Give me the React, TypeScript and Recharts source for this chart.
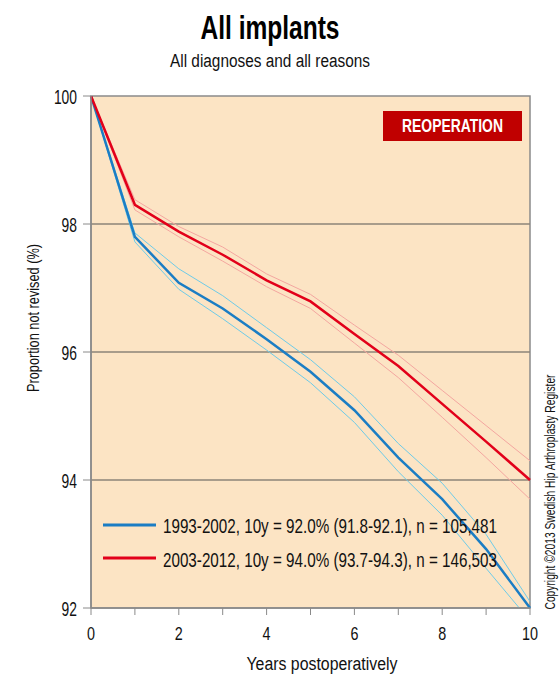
import React from 'react'
import {
  LineChart,
  Line,
  XAxis,
  YAxis,
  ReferenceArea,
  ReferenceLine,
} from 'recharts'

const years = [0, 1, 2, 3, 4, 5, 6, 7, 8, 9, 10]
const blueMain = [100, 97.8, 97.08, 96.68, 96.2, 95.69, 95.09, 94.35, 93.7, 92.92, 92.0]
const blueUpper = [100, 97.86, 97.3, 96.88, 96.38, 95.88, 95.3, 94.57, 93.95, 93.15, 92.1]
const blueLower = [100, 97.72, 96.98, 96.52, 96.03, 95.52, 94.9, 94.13, 93.45, 92.62, 91.8]
const redMain = [100, 98.3, 97.88, 97.52, 97.12, 96.79, 96.28, 95.78, 95.19, 94.6, 94.0]
const redUpper = [100, 98.38, 97.96, 97.64, 97.22, 96.9, 96.42, 95.95, 95.4, 94.85, 94.3]
const redLower = [100, 98.22, 97.8, 97.42, 97.02, 96.68, 96.14, 95.6, 94.98, 94.35, 93.7]

const xTicks = [0, 1, 2, 3, 4, 5, 6, 7, 8, 9, 10]
const yTicks = [92, 94, 96, 98, 100]
const gridValues = [94, 96, 98]

const legendLabels = [
  '1993-2002, 10y = 92.0% (91.8-92.1), n = 105,481',
  '2003-2012, 10y = 94.0% (93.7-94.3), n = 146,503',
]
const legendColors = ['#1b7dc4', '#e2001a']
const bandColors = ['#6ecbe8', '#f4a6a0']

const font = '"Liberation Sans", Arial, sans-serif'
const ink = '#111'

const data = years.map((y, i) => ({
  year: y,
  blue: blueMain[i],
  blueHi: blueUpper[i],
  blueLo: blueLower[i],
  red: redMain[i],
  redHi: redUpper[i],
  redLo: redLower[i],
}))

// narrow tick labels, the original uses a condensed face
function XTick(props: any) {
  const { x, y, payload } = props
  if (payload.value % 2 !== 0) return null
  const s = String(payload.value)
  return (
    <text x={x} y={y + 23} textAnchor="middle" fontFamily={font} fontSize={19} fill={ink}
      textLength={s.length * 8} lengthAdjust="spacingAndGlyphs">
      {s}
    </text>
  )
}

function YTick(props: any) {
  const { x, y, payload } = props
  const s = String(payload.value)
  return (
    <text x={x - 4} y={y + 7.5} textAnchor="end" fontFamily={font} fontSize={21} fill={ink}
      textLength={s.length * 7.7} lengthAdjust="spacingAndGlyphs">
      {s}
    </text>
  )
}

function Overlay() {
  const fit = { lengthAdjust: 'spacingAndGlyphs' as const, fontFamily: font }
  return (
    <svg width={560} height={676} style={{ position: 'absolute', left: 0, top: 0, pointerEvents: 'none' }}>
      <text x={270} y={39} textAnchor="middle" fontSize={34} fontWeight="bold" fill="#000" textLength={139} {...fit}>
        All implants
      </text>
      <text x={270} y={67} textAnchor="middle" fontSize={18} fill={ink} textLength={200} {...fit}>
        All diagnoses and all reasons
      </text>
      <rect x={383} y={111} width={139} height={30} fill="#c00000" />
      <text x={452.5} y={132} textAnchor="middle" fontSize={18} fontWeight="bold" fill="#fff" textLength={101} {...fit}>
        REOPERATION
      </text>
      {legendLabels.map((t, i) => (
        <g key={t}>
          <line x1={103} x2={156} y1={525 + i * 33} y2={525 + i * 33} stroke={legendColors[i]} strokeWidth={3} />
          <text x={163} y={533 + i * 34} fontSize={21} fill={ink} textLength={334} {...fit}>
            {t}
          </text>
        </g>
      ))}
      <text x={322} y={670} textAnchor="middle" fontSize={18} fill={ink} textLength={151} {...fit}>
        Years postoperatively
      </text>
      <text x={39} y={318} transform="rotate(-90 39 318)" textAnchor="middle" fontSize={16} fill={ink} textLength={148} {...fit}>
        Proportion not revised (%)
      </text>
      <text x={555} y={492} transform="rotate(-90 555 492)" textAnchor="middle" fontSize={14} fill={ink} textLength={235} {...fit}>
        Copyright ©2013 Swedish Hip Arthroplasty Register
      </text>
    </svg>
  )
}

export default function App() {
  return (
    <div style={{ position: 'absolute', left: 0, top: 0, width: 560, height: 676, background: '#fff' }}>
      <LineChart
        width={560}
        height={676}
        data={data}
        margin={{ top: 96, right: 30, bottom: 38, left: 51 }}
      >
        <ReferenceArea x1={0} x2={10} y1={92} y2={100} fill="#fce4c4" fillOpacity={1} stroke="#8a8a8a" strokeWidth={1.5} />
        {gridValues.map(v => (
          <ReferenceLine key={v} y={v} stroke="#8c8479" strokeWidth={1.5} />
        ))}
        <XAxis
          dataKey="year"
          type="number"
          domain={[0, 10]}
          ticks={xTicks}
          height={30}
          tick={<XTick />}
          axisLine={{ stroke: '#8a8a8a', strokeWidth: 1.5 }}
          tickLine={{ stroke: '#8a8a8a' }}
          tickSize={7}
        />
        <YAxis
          type="number"
          domain={[92, 100]}
          ticks={yTicks}
          allowDataOverflow
          width={40}
          tick={<YTick />}
          axisLine={{ stroke: '#8a8a8a', strokeWidth: 1.5 }}
          tickLine={{ stroke: '#8a8a8a' }}
          tickSize={8}
        />
        <Line dataKey="blueHi" stroke={bandColors[0]} strokeWidth={1} dot={false} isAnimationActive={false} />
        <Line dataKey="blueLo" stroke={bandColors[0]} strokeWidth={1} dot={false} isAnimationActive={false} />
        <Line dataKey="redHi" stroke={bandColors[1]} strokeWidth={1} dot={false} isAnimationActive={false} />
        <Line dataKey="redLo" stroke={bandColors[1]} strokeWidth={1} dot={false} isAnimationActive={false} />
        <Line dataKey="blue" stroke={legendColors[0]} strokeWidth={2.5} dot={false} isAnimationActive={false} />
        <Line dataKey="red" stroke={legendColors[1]} strokeWidth={2.5} dot={false} isAnimationActive={false} />
      </LineChart>
      <Overlay />
    </div>
  )
}
